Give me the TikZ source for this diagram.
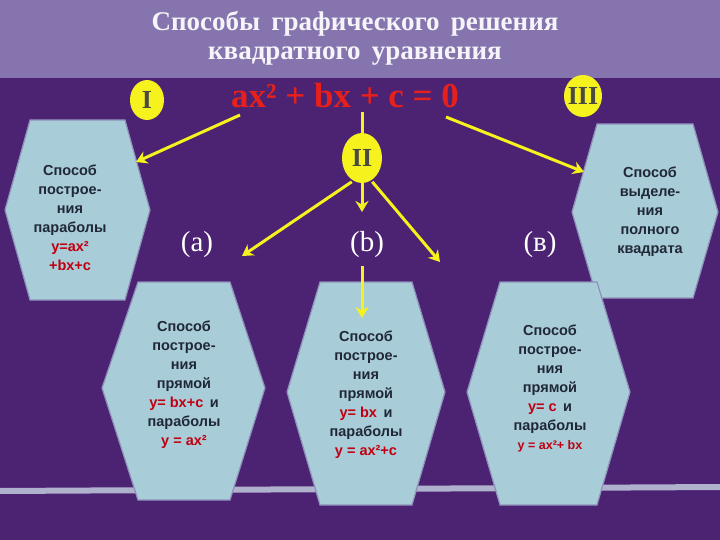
\documentclass[tikz,border=0pt]{standalone}
\usepackage{fontspec}
\usetikzlibrary{shapes.geometric,arrows.meta}
\setmainfont{Liberation Serif}
\newfontfamily\boxfont{Liberation Sans}
\begin{document}
\begin{tikzpicture}[x=1pt,y=-1pt,
  hexbox/.style={fill=hexfill,draw=hexline,line width=1.2pt},
  yarrow/.style={draw=arrowyellow,line width=3pt,-{Stealth[length=11pt,width=13pt]}},
  yball/.style={ellipse,fill=arrowyellow,inner sep=0pt},
  num/.style={font=\bfseries\fontsize{26}{28}\selectfont,text=numgray},
  btxt/.style={align=center,font=\boxfont\bfseries\fontsize{14.5}{19}\selectfont,text=boxtext},
  lbl/.style={font=\fontsize{29}{30}\selectfont,text=white}]
\definecolor{bgdark}{HTML}{4B2372}
\definecolor{bgtop}{HTML}{8574AE}
\definecolor{hexfill}{HTML}{A8CCD8}
\definecolor{hexline}{HTML}{8E8FB8}
\definecolor{arrowyellow}{HTML}{F6F21E}
\definecolor{numgray}{HTML}{4A4A40}
\definecolor{boxtext}{HTML}{202838}
\definecolor{eqred}{HTML}{E8201C}
\definecolor{ered}{HTML}{C00010}
\useasboundingbox (0,0) rectangle (720,540);
\fill[bgdark] (0,0) rectangle (720,540);
\fill[bgtop] (0,0) rectangle (720,78);
\fill[hexline!70!white] (0,488) -- (720,484) -- (720,490) -- (0,494) -- cycle;
% title
\node[font=\bfseries\fontsize{27}{29}\selectfont,text=white!92!bgtop,align=center] (title) at (355,38) {Способы\, графического\, решения\\квадратного\, уравнения};
\node[font=\bfseries\fontsize{35}{36}\selectfont,text=eqred] (eq) at (345,96) {ax² + bx + c = 0};
% balls
\node[yball,minimum width=34pt,minimum height=40pt] (b1) at (147,100) {};
\node[num] at (b1) {I};
\node[yball,minimum width=38pt,minimum height=42pt] (b3) at (583,96) {};
\node[num] at (b3) {III};
\node[yball,minimum width=40pt,minimum height=50pt] (b2) at (362,158) {};
\node[num] at (b2) {II};
% hexagons
\draw[hexbox] (30,120)--(125,120)--(150,210)--(125,300)--(30,300)--(5,210)--cycle;
\draw[hexbox] (597,124)--(693,124)--(718,212)--(693,298)--(597,298)--(572,212)--cycle;
\draw[hexbox] (138,282)--(230,282)--(265,388)--(230,500)--(138,500)--(102,388)--cycle;
\draw[hexbox] (320,282)--(412,282)--(445,392)--(412,505)--(320,505)--(287,392)--cycle;
\draw[hexbox] (500,282)--(597,282)--(630,392)--(597,505)--(500,505)--(467,392)--cycle;
\node[btxt] (t1) at (70,218) {Способ\\построе-\\ния\\параболы\\{\color{ered}y=ax²}\\{\color{ered}+bx+c}};
\node[btxt] (t3) at (650,212) {Способ\\выделе-\\ния\\полного\\квадрата};
\node[btxt] (ta) at (184,385) {Способ\\построе-\\ния\\прямой\\{\color{ered}y= bx+c}\, и\\параболы\\{\color{ered}y = ax²}};
\node[btxt] (tb) at (366,395) {Способ\\построе-\\ния\\прямой\\{\color{ered}y= bx}\, и\\параболы\\{\color{ered}y = ax²+c}};
\node[btxt] (tc) at (550,388) {Способ\\построе-\\ния\\прямой\\{\color{ered}y= c}\, и\\параболы\\{\color{ered}\fontsize{12.5}{19}\selectfont y = ax²+ bx}};
% labels
\node[lbl] (la) at (197,245) {(a)};
\node[lbl] (lb) at (367,245) {(b)};
\node[lbl] (lc) at (540,245) {(в)};
% arrows
\coordinate (e1) at (240,115); \coordinate (e1t) at (136,162);
\coordinate (e3) at (446,117); \coordinate (e3t) at (584,172);
\draw[yarrow] (e1) -- (e1t);
\draw[yarrow] (e3) -- (e3t);
\draw[draw=arrowyellow,line width=3pt] (362,112) -- (b2.north);
\coordinate (pa) at (242,256); \coordinate (pb) at (362,212); \coordinate (pc) at (440,262);
\draw[yarrow] (b2.south west) ++(4,6) -- (pa);
\draw[yarrow] (b2.south) -- (pb);
\draw[yarrow] (b2.south east) ++(-4,6) -- (pc);
\coordinate (pd) at (362,318);
\draw[yarrow] (lb.south) ++(-5,4) -- (pd);
\end{tikzpicture}
\end{document}
